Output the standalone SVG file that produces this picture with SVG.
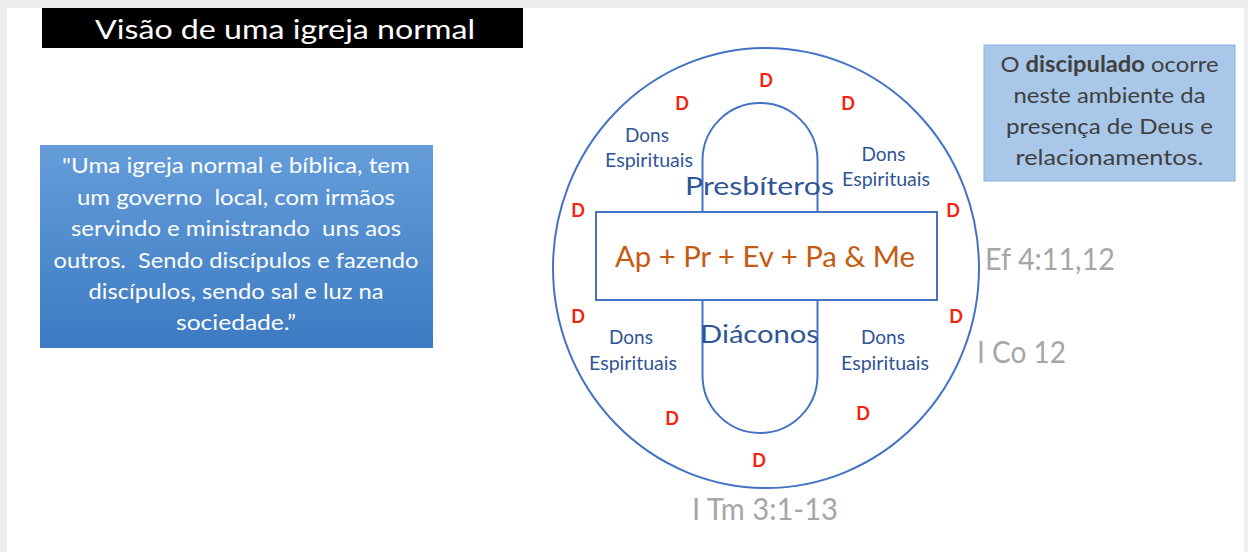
<svg xmlns="http://www.w3.org/2000/svg" width="1248" height="552" viewBox="0 0 1248 552">
<defs>
<linearGradient id="blueGrad" x1="0" y1="0" x2="0" y2="1">
<stop offset="0" stop-color="#659DDA"/>
<stop offset="1" stop-color="#3C7AC2"/>
</linearGradient>
</defs>
<style>
text{font-family:Lato,"Open Sans","Liberation Sans",sans-serif}
.shape{fill:none;stroke:#4472C4;stroke-width:2}
.d{font-weight:bold;font-size:18px;fill:#F8200E;text-anchor:middle}
.dons{font-size:19px;fill:#2F5597;text-anchor:middle}
.ref{font-size:30.5px;fill:#A6A6A6}
.role{font-size:25.5px;fill:#2F5597}
.quote{font-size:21px;fill:#FFFFFF;text-anchor:middle}
.note{font-size:22px;fill:#404040;text-anchor:middle}
</style>
<rect x="0" y="0" width="1248" height="552" fill="#EEEEEE"/>
<rect x="7" y="8" width="1237" height="544" fill="#FFFFFF"/>

<g id="title">
<rect x="42" y="8" width="481" height="40" fill="#000000"/>
<text x="95" y="39" font-size="27.5" fill="#FFFFFF" textLength="380" lengthAdjust="spacingAndGlyphs">Visão de uma igreja normal</text>
</g>

<g id="quote-box">
<rect x="40" y="145" width="393" height="203" fill="url(#blueGrad)"/>
<text class="quote" xml:space="preserve" x="236" y="173" textLength="348" lengthAdjust="spacingAndGlyphs">"Uma igreja normal e bíblica, tem</text>
<text class="quote" xml:space="preserve" x="236" y="205" textLength="318" lengthAdjust="spacingAndGlyphs">um governo  local, com irmãos</text>
<text class="quote" xml:space="preserve" x="236" y="236" textLength="330" lengthAdjust="spacingAndGlyphs">servindo e ministrando  uns aos</text>
<text class="quote" xml:space="preserve" x="236" y="268" textLength="365" lengthAdjust="spacingAndGlyphs">outros.  Sendo discípulos e fazendo</text>
<text class="quote" xml:space="preserve" x="236" y="299" textLength="295" lengthAdjust="spacingAndGlyphs">discípulos, sendo sal e luz na</text>
<text class="quote" xml:space="preserve" x="236" y="330" textLength="120" lengthAdjust="spacingAndGlyphs">sociedade.”</text>
</g>

<g id="note-box">
<rect x="984" y="45" width="251" height="136" fill="#A8C7E9" stroke="#8DB2DE" stroke-width="1"/>
<text class="note" x="1109.5" y="72" textLength="218" lengthAdjust="spacingAndGlyphs">O <tspan font-weight="bold">discipulado</tspan> ocorre</text>
<text class="note" x="1109.5" y="103" textLength="192" lengthAdjust="spacingAndGlyphs">neste ambiente da</text>
<text class="note" x="1109.5" y="134" textLength="207" lengthAdjust="spacingAndGlyphs">presença de Deus e</text>
<text class="note" x="1109.5" y="165" textLength="188" lengthAdjust="spacingAndGlyphs">relacionamentos.</text>
</g>

<g id="church-circle">
<ellipse class="shape" cx="766" cy="268" rx="213" ry="220"/>
</g>

<g id="ministry-capsule">
<path class="shape" d="M702.5,160.5 A57.5,57.5 0 0 1 817.5,160.5 L817.5,375.5 A57.5,57.5 0 0 1 702.5,375.5 Z"/>
</g>

<g id="five-fold">
<rect x="596" y="212" width="341" height="88" fill="#FFFFFF" stroke="#4472C4" stroke-width="2"/>
<text x="615" y="267" font-size="29.5" fill="#C55A11" textLength="300" lengthAdjust="spacingAndGlyphs">Ap + Pr + Ev + Pa &amp; Me</text>
</g>

<g id="presbiteros">
<text class="role" x="685" y="195" textLength="149" lengthAdjust="spacingAndGlyphs">Presbíteros</text>
</g>
<g id="diaconos">
<text class="role" x="700" y="343" textLength="119" lengthAdjust="spacingAndGlyphs">Diáconos</text>
</g>

<g id="dons-top-left">
<text class="dons" x="647" y="142">Dons</text>
<text class="dons" x="649" y="167" textLength="88" lengthAdjust="spacingAndGlyphs">Espirituais</text>
</g>
<g id="dons-top-right">
<text class="dons" x="883.5" y="161">Dons</text>
<text class="dons" x="886" y="186" textLength="88" lengthAdjust="spacingAndGlyphs">Espirituais</text>
</g>
<g id="dons-bottom-left">
<text class="dons" x="631" y="344">Dons</text>
<text class="dons" x="633" y="370" textLength="88" lengthAdjust="spacingAndGlyphs">Espirituais</text>
</g>
<g id="dons-bottom-right">
<text class="dons" x="883" y="344">Dons</text>
<text class="dons" x="885" y="370" textLength="88" lengthAdjust="spacingAndGlyphs">Espirituais</text>
</g>

<g id="disciples">
<text class="d" x="766" y="87">D</text>
<text class="d" x="682" y="110">D</text>
<text class="d" x="848" y="110">D</text>
<text class="d" x="578" y="217">D</text>
<text class="d" x="953" y="217">D</text>
<text class="d" x="578" y="323">D</text>
<text class="d" x="956" y="323">D</text>
<text class="d" x="672" y="425">D</text>
<text class="d" x="863" y="420">D</text>
<text class="d" x="759" y="467">D</text>
</g>

<g id="references">
<text class="ref" x="985" y="270" textLength="130" lengthAdjust="spacingAndGlyphs">Ef 4:11,12</text>
<text class="ref" x="977" y="363" textLength="89" lengthAdjust="spacingAndGlyphs">I Co 12</text>
<text class="ref" x="692" y="520" textLength="146" lengthAdjust="spacingAndGlyphs">I Tm 3:1-13</text>
</g>
</svg>
